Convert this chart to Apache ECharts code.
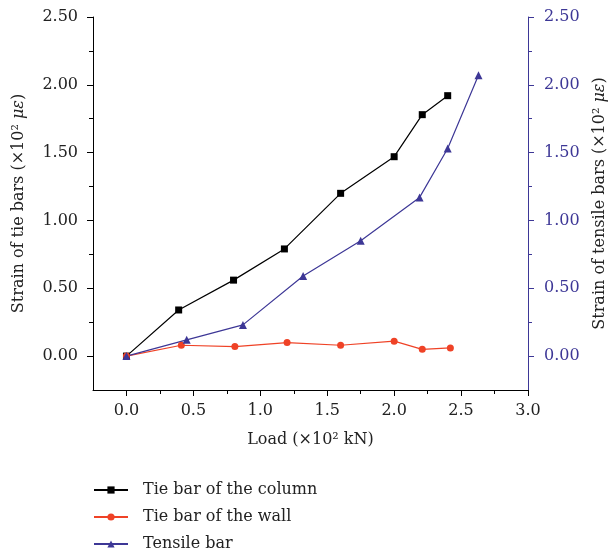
<!DOCTYPE html>
<html>
<head>
<meta charset="utf-8">
<script src="https://cdn.jsdelivr.net/npm/echarts@6/dist/echarts.min.js"></script>
<style>
html, body { margin: 0; padding: 0; background: #fff; }
#main { width: 611px; height: 554px; }
</style>
</head>
<body>
<div id="main"></div>
<script>
// data (load x10^2 kN, strain x10^2 με)
var loadColumn = [0, 0.39, 0.80, 1.18, 1.60, 2.00, 2.21, 2.40];
var strainColumn = [0, 0.34, 0.56, 0.79, 1.20, 1.47, 1.78, 1.92];
var loadWall = [0, 0.41, 0.81, 1.20, 1.60, 2.00, 2.21, 2.42];
var strainWall = [0, 0.08, 0.07, 0.10, 0.08, 0.11, 0.05, 0.06];
var loadTensile = [0, 0.45, 0.87, 1.32, 1.75, 2.19, 2.40, 2.63];
var strainTensile = [0, 0.12, 0.23, 0.59, 0.85, 1.17, 1.53, 2.07];

var xTicks = [0, 0.5, 1, 1.5, 2, 2.5, 3];
var xMinorTicks = [0.25, 0.75, 1.25, 1.75, 2.25, 2.75];
var yTicks = [0, 0.5, 1, 1.5, 2, 2.5];
var yMinorTicks = [0.25, 0.75, 1.25, 1.75, 2.25];

var seriesNames = ['Tie bar of the column', 'Tie bar of the wall', 'Tensile bar'];

function zip(xs, ys) {
    var out = [];
    for (var i = 0; i < xs.length; i++) out.push([xs[i], ys[i]]);
    return out;
}

var FONT = '"DejaVu Serif", "Liberation Serif", serif';
var FS = 16;
var PURPLE = '#3d3796';
var RED = '#ef4226';
var TXT = '#222';

var chart = echarts.init(document.getElementById('main'), null, { renderer: 'canvas' });

// extra axis that only draws the short minor ticks
function minorAxis(pos, vals, color, isX) {
    return {
        type: 'value', position: pos,
        min: -0.25, max: isX ? 3 : 2.5,
        axisLine: { show: false, onZero: false },
        axisLabel: { show: false },
        splitLine: { show: false },
        axisTick: { show: true, length: 4, customValues: vals, lineStyle: { color: color, width: 1 } }
    };
}

var nameStyle = {
    fontFamily: FONT, fontSize: FS, color: TXT,
    rich: { it: { fontFamily: FONT, fontSize: FS, fontStyle: 'italic', color: TXT } }
};

var option = {
    animation: false,
    backgroundColor: '#fff',
    grid: { left: 93, right: 83, top: 17, bottom: 164, containLabel: false, outerBoundsMode: 'none' },
    legend: {
        orient: 'vertical',
        left: 93, top: 482, padding: 0,
        itemWidth: 34, itemHeight: 9, itemGap: 11,
        data: seriesNames,
        textStyle: { fontFamily: FONT, fontSize: FS, color: TXT, padding: [0, 0, 0, 10] }
    },
    xAxis: [{
        type: 'value', position: 'bottom',
        min: -0.25, max: 3,
        name: 'Load (×10² kN)', nameLocation: 'middle', nameGap: 42,
        nameTextStyle: nameStyle,
        axisLine: { onZero: false, lineStyle: { color: '#000', width: 1 } },
        axisTick: { length: 6, customValues: xTicks, lineStyle: { color: '#000' } },
        axisLabel: { customValues: xTicks, margin: 13, fontFamily: FONT, fontSize: FS, color: TXT,
            formatter: function (v) { return v.toFixed(1); } },
        splitLine: { show: false }
    }, minorAxis('bottom', xMinorTicks, '#000', true)],
    yAxis: [{
        type: 'value', position: 'left',
        min: -0.25, max: 2.5,
        name: 'Strain of tie bars (×10² {it|με})', nameLocation: 'middle', nameGap: 66,
        nameTextStyle: nameStyle,
        axisLine: { show: true, onZero: false, lineStyle: { color: '#000', width: 1 } },
        axisTick: { length: 6, customValues: yTicks, lineStyle: { color: '#000' } },
        axisLabel: { customValues: yTicks, margin: 15, fontFamily: FONT, fontSize: FS, color: TXT,
            formatter: function (v) { return v.toFixed(2); } },
        splitLine: { show: false }
    }, minorAxis('left', yMinorTicks, '#000', false), {
        type: 'value', position: 'right',
        min: -0.25, max: 2.5,
        name: 'Strain of tensile bars (×10² {it|με})', nameLocation: 'middle', nameGap: 64,
        nameRotate: 90,
        nameTextStyle: nameStyle,
        axisLine: { show: true, onZero: false, lineStyle: { color: PURPLE, width: 1 } },
        axisTick: { length: 6, customValues: yTicks, lineStyle: { color: PURPLE } },
        axisLabel: { customValues: yTicks, margin: 16, fontFamily: FONT, fontSize: FS, color: PURPLE,
            formatter: function (v) { return v.toFixed(2); } },
        splitLine: { show: false }
    }, minorAxis('right', yMinorTicks, PURPLE, false)],
    series: [{
        name: seriesNames[0], type: 'line', xAxisIndex: 0, yAxisIndex: 0,
        data: zip(loadColumn, strainColumn),
        symbol: 'rect', symbolSize: 7,
        lineStyle: { color: '#000', width: 1.2 },
        itemStyle: { color: '#000' }
    }, {
        name: seriesNames[1], type: 'line', xAxisIndex: 0, yAxisIndex: 0,
        data: zip(loadWall, strainWall),
        symbol: 'circle', symbolSize: 7,
        lineStyle: { color: RED, width: 1.2 },
        itemStyle: { color: RED }
    }, {
        name: seriesNames[2], type: 'line', xAxisIndex: 0, yAxisIndex: 2,
        data: zip(loadTensile, strainTensile),
        symbol: 'triangle', symbolSize: 8,
        lineStyle: { color: PURPLE, width: 1.2 },
        itemStyle: { color: PURPLE }
    }]
};

chart.setOption(option);
</script>
</body>
</html>
